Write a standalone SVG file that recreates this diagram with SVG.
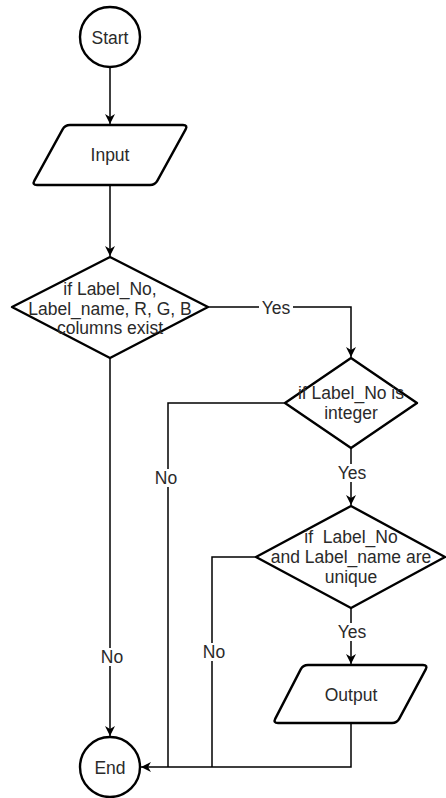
<svg xmlns="http://www.w3.org/2000/svg" width="446" height="798" viewBox="0 0 446 798">
  <defs>
    <style>
      .shape { fill: #ffffff; stroke: #000000; stroke-width: 2.4; stroke-linejoin: round; }
      .edge { fill: none; stroke: #000000; stroke-width: 1.5; }
      .txt { font-family: "Liberation Sans", Arial, sans-serif; font-size: 17.5px; fill: #2a2a2a; text-anchor: middle; dominant-baseline: central; }
      .lbl { font-family: "Liberation Sans", Arial, sans-serif; font-size: 17.5px; fill: #2a2a2a; text-anchor: middle; dominant-baseline: central; }
      .lblbg { fill: #ffffff; stroke: none; }
    </style>
    <marker id="arrow" viewBox="0 0 10 10" refX="10" refY="5" markerWidth="10" markerHeight="10" markerUnits="userSpaceOnUse" orient="auto">
      <path d="M0,0 L10,5 L0,10 L3,5 Z" fill="#000000"/>
    </marker>
  </defs>
  <rect width="446" height="798" fill="#ffffff"/>

  <!-- connectors -->
  <g id="connectors">
    <path class="edge" d="M110,67 L110,124" marker-end="url(#arrow)"/>
    <path class="edge" d="M110,185 L110,256" marker-end="url(#arrow)"/>
    <path class="edge" d="M208,307 L351,307 L351,357" marker-end="url(#arrow)"/>
    <path class="edge" d="M110,358 L110,736" marker-end="url(#arrow)"/>
    <path class="edge" d="M285,403 L168,403 L168,767"/>
    <path class="edge" d="M351,448 L351,505" marker-end="url(#arrow)"/>
    <path class="edge" d="M256,557 L212,557 L212,767"/>
    <path class="edge" d="M351,608 L351,664" marker-end="url(#arrow)"/>
    <path class="edge" d="M351,723 L351,767 L141,767" marker-end="url(#arrow)"/>

    <!-- edge labels -->
    <rect class="lblbg" x="259" y="298" width="34" height="18"/>
    <text class="lbl" x="276" y="308">Yes</text>
    <rect class="lblbg" x="335" y="464" width="34" height="18"/>
    <text class="lbl" x="352" y="473">Yes</text>
    <rect class="lblbg" x="335" y="623" width="34" height="18"/>
    <text class="lbl" x="352" y="632">Yes</text>
    <rect class="lblbg" x="153" y="469" width="26" height="18"/>
    <text class="lbl" x="166" y="478">No</text>
    <rect class="lblbg" x="200" y="643" width="26" height="18"/>
    <text class="lbl" x="214" y="652">No</text>
    <rect class="lblbg" x="98" y="648" width="26" height="18"/>
    <text class="lbl" x="112" y="657">No</text>
  </g>

  <!-- nodes -->
  <g id="start">
    <circle class="shape" cx="110" cy="37" r="30"/>
    <text class="txt" x="110" y="38">Start</text>
  </g>

  <g id="input">
    <path class="shape" d="M70,125 L183,125 Q188,125 185.6,129.4 L157.4,180.6 Q155,185 150,185 L37,185 Q32,185 34.4,180.6 L62.6,129.4 Q65,125 70,125 Z"/>
    <text class="txt" x="110" y="155">Input</text>
  </g>

  <g id="check-columns">
    <path class="shape" d="M110,257 L208,307 L110,358 L12,307 Z"/>
    <text class="txt" x="110" y="289">if Label_No,</text>
    <text class="txt" x="110" y="309">Label_name, R, G, B</text>
    <text class="txt" x="110" y="328">columns exist</text>
  </g>

  <g id="check-integer">
    <path class="shape" d="M351,358 L417,403 L351,448 L285,403 Z"/>
    <text class="txt" x="351" y="393">if Label_No is</text>
    <text class="txt" x="351" y="413">integer</text>
  </g>

  <g id="check-unique">
    <path class="shape" d="M351,506 L445,557 L351,608 L256,557 Z"/>
    <text class="txt" x="351" y="537" xml:space="preserve">if  Label_No</text>
    <text class="txt" x="351" y="557">and Label_name are</text>
    <text class="txt" x="351" y="577">unique</text>
  </g>

  <g id="output">
    <path class="shape" d="M308,665 L423,665 Q428,665 425.7,669.4 L399.3,718.6 Q397,723 392,723 L278,723 Q273,723 275.3,718.6 L300.7,669.4 Q303,665 308,665 Z"/>
    <text class="txt" x="351" y="695">Output</text>
  </g>

  <g id="end">
    <circle class="shape" cx="110" cy="767" r="30"/>
    <text class="txt" x="110" y="768">End</text>
  </g>
</svg>
